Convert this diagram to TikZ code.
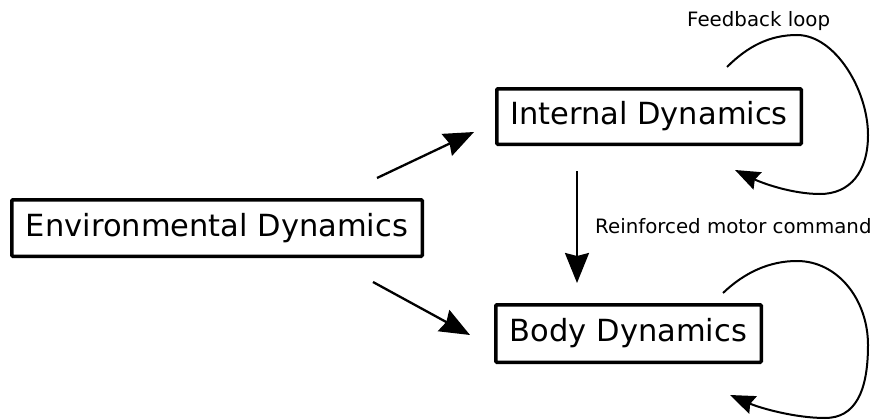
\documentclass[tikz,border=0pt]{standalone}
\usepackage{fontspec}
\setmainfont{DejaVu Sans}
\usetikzlibrary{arrows.meta}
\begin{document}
\begin{tikzpicture}[x=1pt,y=-1pt,
  box/.style={draw, line width=3.5pt, rounded corners=1pt, inner sep=0pt,
    font=\fontsize{30.5}{36}\selectfont},
  lbl/.style={font=\fontsize{19.8}{24}\selectfont, inner sep=0pt, anchor=base west},
  bigarrow/.style={line width=2.3pt, -{Stealth[length=30pt,width=24pt,inset=3pt]}},
  looparrow/.style={line width=2pt, -{Stealth[length=25pt,width=19pt,inset=3pt]}}]
\useasboundingbox (0,0) rectangle (870,420);

% boxes
\node[box, minimum width=304.5pt, minimum height=55.5pt] (int) at (649,116.5) {Internal Dynamics};
\node[box, minimum width=265.5pt, minimum height=57.5pt] (body) at (628.5,333.5) {Body Dynamics};
\node[box, minimum width=410.5pt, minimum height=56.5pt] (env) at (217,228) {Environmental Dynamics};

% labels
\node[lbl] (fbl) at (687,27) {Feedback loop};
\node[lbl] (rmc) at (595,233) {Reinforced motor command};

% connector end points
\coordinate (e1s) at (377,178);
\coordinate (e1t) at (474,132);
\coordinate (e2s) at (373,282);
\coordinate (e2t) at (470,335);
\coordinate (ibs) at (577,171);
\coordinate (ibt) at (577,283);
\coordinate (il0) at (727,67);
\coordinate (il1) at (797,35);
\coordinate (il2) at (868,135);
\coordinate (il3) at (820,194);
\coordinate (il4) at (735,170);
\coordinate (bl0) at (723,293);
\coordinate (bl1) at (797,261);
\coordinate (bl2) at (868,345);
\coordinate (bl3) at (825,418);
\coordinate (bl4) at (730,395);

% straight arrows
\draw[bigarrow] (e1s) -- (e1t);
\draw[bigarrow] (e2s) -- (e2t);
\draw[bigarrow] (ibs) -- (ibt);

% feedback loops
\draw[looparrow] (il0) .. controls (748,46) and (770,35) .. (il1)
  .. controls (835,35) and (868,90) .. (il2)
  .. controls (868,172) and (850,194) .. (il3)
  .. controls (792,194) and (762,183) .. (il4);
\draw[looparrow] (bl0) .. controls (745,272) and (770,261) .. (bl1)
  .. controls (838,261) and (868,300) .. (bl2)
  .. controls (868,392) and (855,418) .. (bl3)
  .. controls (795,418) and (760,408) .. (bl4);
\end{tikzpicture}
\end{document}
